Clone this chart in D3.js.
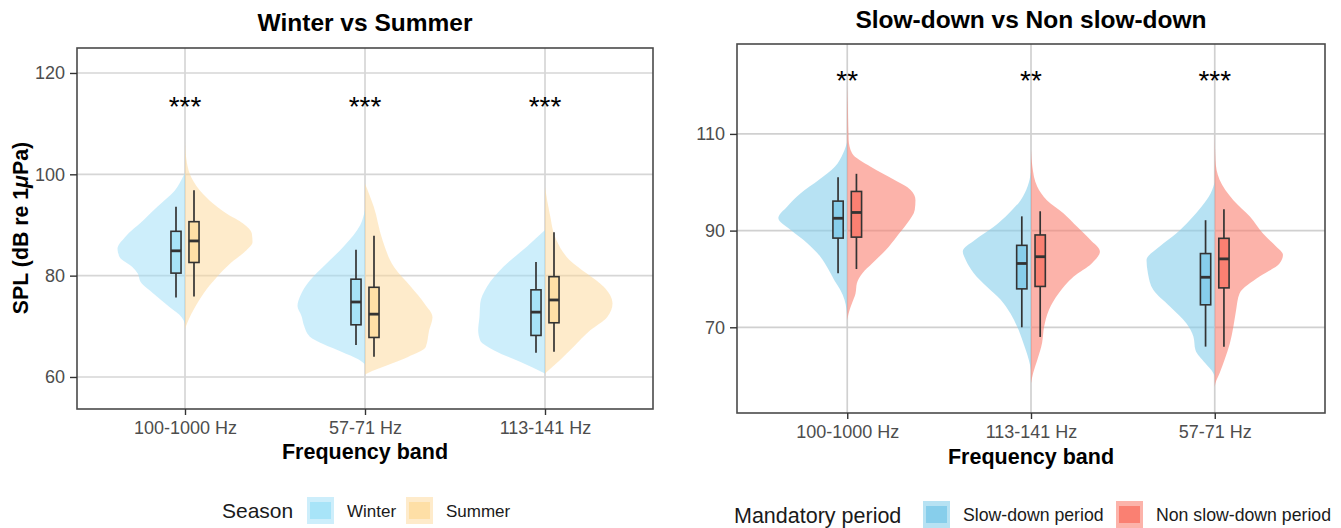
<!DOCTYPE html>
<html>
<head>
<meta charset="utf-8">
<script src="https://cdn.jsdelivr.net/npm/d3@7"></script>
<style>
  html, body { margin: 0; padding: 0; background: #ffffff; }
  svg { display: block; }
</style>
</head>
<body>
<script>
// ---- Frequency bands (panel order) ----
const seasonBands = ["100-1000 Hz", "57-71 Hz", "113-141 Hz"];
const periodBands = ["100-1000 Hz", "113-141 Hz", "57-71 Hz"];

// ---- Group names ----
const seasonGroups = ["Winter", "Summer"];
const periodGroups = ["Slow-down period", "Non slow-down period"];

// ---- Axis ticks ----
const seasonTicks = [60, 80, 100, 120];
const periodTicks = [70, 90, 110];

// ---- Significance labels per band ----
const seasonStars = ["***", "***", "***"];
const periodStars = ["**", "**", "***"];

// ---- Box statistics per band: [lower whisker, Q1, median, Q3, upper whisker] (dB) ----
const winterBox   = [[75.7, 80.5, 84.9, 88.75, 93.6], [66.3, 70.3, 74.8, 79.3, 85.1], [64.8, 68.2, 72.8, 77.2, 82.7]];
const summerBox   = [[75.9, 82.6, 86.85, 90.65, 96.85], [64.0, 67.8, 72.4, 77.7, 87.85], [65.0, 70.7, 75.2, 79.8, 88.55]];
const slowBox     = [[81.2, 88.45, 92.55, 96.1, 101.05], [70.0, 77.95, 83.2, 86.95, 92.95], [66.0, 74.65, 80.35, 85.25, 92.15]];
const nonSlowBox  = [[82.05, 88.65, 93.75, 98.1, 101.75], [68.0, 78.45, 84.6, 89.1, 94.0], [66.0, 78.15, 84.15, 88.4, 94.4]];

// ---- Density profiles per band: [SPL (dB), relative density] ----
const winterViolin = [
  [[70.5,0],[71.8,0.05],[73.8,0.23],[76.4,0.46],[78.8,0.66],[80.4,0.70],[81.7,0.78],[83.7,0.97],[85.3,1.0],[87.6,0.89],[90.9,0.62],[93.6,0.41],[96.8,0.15],[99.5,0.03],[100.3,0]],
  [[62.5,0],[63.5,0.1],[65,0.35],[66.5,0.62],[68,0.82],[70,0.9],[72,0.94],[74,1.0],[76,0.96],[79,0.82],[82,0.6],[86,0.3],[90,0.07],[93,0]],
  [[60.7,0],[63.0,0.37],[65.3,0.76],[67.2,0.96],[69.2,0.99],[72,0.97],[74.5,0.96],[77.8,0.86],[81.7,0.62],[85.7,0.27],[89.0,0]]
];
const summerViolin = [
  [[69.5,0],[71.2,0.05],[73.8,0.15],[76.4,0.27],[79.7,0.47],[82.4,0.67],[85.0,0.91],[86.6,1.0],[88.3,0.99],[90.3,0.86],[92.2,0.62],[94.2,0.42],[96.8,0.22],[100.1,0.07],[103,0.02],[106.5,0]],
  [[60.5,0],[60.7,0.03],[62.3,0.33],[63.9,0.63],[65.9,0.9],[69.2,0.95],[71.8,1.0],[74.5,0.88],[77.8,0.68],[81.7,0.43],[87.0,0.26],[93.6,0.13],[98.2,0]],
  [[60.7,0],[63.3,0.22],[65.9,0.42],[69.2,0.67],[71.8,0.92],[74.5,1.0],[77.8,0.87],[80.4,0.62],[83.0,0.37],[87.0,0.17],[92.2,0.07],[97.5,0]]
];
const slowViolin = [
  [[72.2,0],[73.6,0.01],[75.7,0.04],[77.7,0.1],[79.8,0.19],[81.9,0.27],[84.6,0.39],[87.4,0.58],[90.1,0.82],[92.6,1.0],[95.0,0.87],[97.7,0.68],[100.5,0.41],[103.2,0.18],[106.0,0.06],[108.4,0]],
  [[61.2,0],[63.2,0.03],[66.7,0.11],[70.1,0.2],[72.9,0.3],[75.7,0.44],[78.4,0.64],[81.2,0.83],[84.0,0.95],[85.7,0.99],[88.1,0.81],[90.8,0.54],[93.6,0.32],[96.3,0.15],[99.1,0.05],[102,0]],
  [[59.8,0],[60.5,0.02],[62.6,0.14],[65.3,0.28],[68.1,0.31],[70.8,0.41],[74.3,0.65],[77.7,0.89],[81.2,0.97],[83.9,0.99],[86.7,0.8],[89.4,0.56],[92.2,0.36],[95.0,0.19],[97.7,0.06],[100,0]]
];
const nonSlowViolin = [
  [[71.5,0],[72.9,0.02],[75.0,0.07],[77.0,0.12],[79.1,0.14],[81.2,0.22],[83.2,0.36],[86.0,0.56],[88.8,0.72],[91.5,0.87],[94.3,0.98],[96.3,0.99],[98.4,0.92],[100.5,0.68],[103.2,0.34],[106.0,0.07],[108.8,0.02],[115,0.01],[120,0]],
  [[58.4,0],[60.5,0.03],[63.2,0.09],[66.7,0.16],[70.1,0.19],[73.6,0.26],[77.0,0.4],[80.5,0.62],[83.2,0.88],[85.7,1.0],[88.1,0.86],[90.8,0.67],[93.6,0.47],[96.3,0.23],[99.1,0.09],[103.2,0.02],[106.7,0]],
  [[57.7,0],[58.4,0.01],[60.5,0.07],[63.2,0.14],[66.7,0.22],[70.1,0.27],[73.6,0.31],[77.0,0.36],[80.5,0.65],[83.2,0.94],[85.0,0.99],[86.7,0.89],[89.4,0.7],[92.9,0.51],[96.3,0.27],[100.5,0.07],[104.6,0.01],[110,0]]
];

const FONT = "'Liberation Sans', Arial, Helvetica, sans-serif";
const INK = "#333333";

const svg = d3.select("body").append("svg")
  .attr("width", 1341).attr("height", 528)
  .style("font-family", FONT);

function drawPanel(p) {
  const g = svg.append("g");
  const f = p.frame;

  const y = d3.scaleLinear().domain(p.domain).range([f.bottom, f.top]);
  const x = d3.scalePoint().domain(p.bands).range([f.left, f.right]).padding(0.6);
  const step = x.step();
  const halfW = 0.375 * step;
  const boxOff = 0.05 * step;
  const boxW = 0.056 * step;

  // grid
  g.append("g").selectAll("line.h").data(p.ticks).join("line")
    .attr("x1", f.left).attr("x2", f.right)
    .attr("y1", d => y(d)).attr("y2", d => y(d))
    .attr("stroke", p.gridColor).attr("stroke-width", 1.7);
  g.append("g").selectAll("line.v").data(p.bands).join("line")
    .attr("x1", d => x(d)).attr("x2", d => x(d))
    .attr("y1", f.top).attr("y2", f.bottom)
    .attr("stroke", p.gridColor).attr("stroke-width", 1.7);

  // split violins
  p.groups.forEach(grp => {
    p.bands.forEach((band, i) => {
      const cx = x(band);
      const prof = grp.violin[i].slice().sort((a, b) => b[0] - a[0]);
      const area = d3.area()
        .y(d => y(d[0]))
        .x0(cx)
        .x1(d => cx + grp.side * d[1] * halfW)
        .curve(d3.curveMonotoneY);
      g.append("path")
        .attr("d", area(prof))
        .attr("fill", grp.fill)
        .attr("fill-opacity", grp.alpha);
    });
  });

  // boxplots
  p.groups.forEach(grp => {
    p.bands.forEach((band, i) => {
      const [lo, q1, med, q3, hi] = grp.box[i];
      const bx = x(band) + grp.side * boxOff;
      const bg = g.append("g");
      bg.append("line").attr("x1", bx).attr("x2", bx).attr("y1", y(hi)).attr("y2", y(q3))
        .attr("stroke", INK).attr("stroke-width", 1.7);
      bg.append("line").attr("x1", bx).attr("x2", bx).attr("y1", y(q1)).attr("y2", y(lo))
        .attr("stroke", INK).attr("stroke-width", 1.7);
      bg.append("rect")
        .attr("x", bx - boxW / 2).attr("width", boxW)
        .attr("y", y(q3)).attr("height", y(q1) - y(q3))
        .attr("fill", grp.boxFill).attr("stroke", INK).attr("stroke-width", 1.6);
      bg.append("line").attr("x1", bx - boxW / 2).attr("x2", bx + boxW / 2)
        .attr("y1", y(med)).attr("y2", y(med))
        .attr("stroke", INK).attr("stroke-width", 2.8);
    });
  });

  // significance stars
  g.append("g").selectAll("text").data(p.bands).join("text")
    .attr("x", d => x(d)).attr("y", y(p.starLevel))
    .attr("dy", "0.55em")
    .attr("text-anchor", "middle")
    .attr("font-size", 28)
    .attr("fill", "#000")
    .text((d, i) => p.stars[i]);

  // frame
  g.append("rect")
    .attr("x", f.left).attr("y", f.top)
    .attr("width", f.right - f.left).attr("height", f.bottom - f.top)
    .attr("fill", "none").attr("stroke", "#4a4a4a").attr("stroke-width", 1.6);

  // axes
  const ya = g.append("g").attr("transform", `translate(${f.left},0)`)
    .call(d3.axisLeft(y).tickValues(p.ticks).tickSize(7).tickPadding(5));
  const xa = g.append("g").attr("transform", `translate(0,${f.bottom})`)
    .call(d3.axisBottom(x).tickSize(6).tickPadding(6));
  [ya, xa].forEach(a => {
    a.select(".domain").remove();
    a.selectAll(".tick line").attr("stroke", INK).attr("stroke-width", 1.4);
    a.selectAll(".tick text").attr("fill", "#4d4d4d").attr("font-size", 18).attr("font-family", FONT);
  });

  // titles
  g.append("text")
    .attr("x", (f.left + f.right) / 2).attr("y", p.titleY).attr("dy", "0.35em")
    .attr("text-anchor", "middle").attr("font-size", 24.5).attr("font-weight", "bold")
    .attr("fill", "#000").text(p.title);
  g.append("text")
    .attr("x", (f.left + f.right) / 2).attr("y", p.xTitleY).attr("dy", "0.35em")
    .attr("text-anchor", "middle").attr("font-size", 21.5).attr("font-weight", "bold")
    .attr("fill", "#000").text("Frequency band");

  // legend
  const L = p.legend;
  g.append("text").attr("x", L.titleX).attr("y", L.y).attr("dy", "0.35em")
    .attr("font-size", L.titleSize).attr("fill", "#1a1a1a").text(L.title);
  p.groups.forEach((grp, k) => {
    const kx = L.keyX[k];
    g.append("rect").attr("x", kx).attr("y", L.y - 14).attr("width", 27).attr("height", 27)
      .attr("fill", grp.fill).attr("fill-opacity", grp.alpha);
    g.append("rect").attr("x", kx + 3).attr("y", L.y - 9).attr("width", 21).attr("height", 17)
      .attr("fill", grp.boxFill);
    g.append("text").attr("x", kx + 40).attr("y", L.y).attr("dy", "0.35em")
      .attr("font-size", L.labelSize).attr("fill", "#1a1a1a").text(L.labels[k]);
  });
}

// Winter vs Summer
drawPanel({
  bands: seasonBands, ticks: seasonTicks, stars: seasonStars, starLevel: 114.5,
  frame: { left: 77, right: 653, top: 48, bottom: 409 }, domain: [53.68, 124.93],
  gridColor: "#d6d6d6",
  title: "Winter vs Summer", titleY: 22, xTitleY: 451,
  groups: [
    { violin: winterViolin, box: winterBox, side: -1, fill: "#9fdff7", alpha: 0.52, boxFill: "#a8e4f8" },
    { violin: summerViolin, box: summerBox, side: 1, fill: "#fdd99b", alpha: 0.52, boxFill: "#fedfa6" }
  ],
  legend: { title: "Season", titleX: 222, y: 511, titleSize: 21, labelSize: 17,
            keyX: [307, 406], labels: seasonGroups }
});

// Slow-down vs Non slow-down
drawPanel({
  bands: periodBands, ticks: periodTicks, stars: periodStars, starLevel: 122.2,
  frame: { left: 737, right: 1325, top: 44, bottom: 413 }, domain: [52.27, 128.6],
  gridColor: "#d0d0d0",
  title: "Slow-down vs Non slow-down", titleY: 19, xTitleY: 456,
  groups: [
    { violin: slowViolin, box: slowBox, side: -1, fill: "#87ceeb", alpha: 0.6, boxFill: "#87ceeb" },
    { violin: nonSlowViolin, box: nonSlowBox, side: 1, fill: "#fa8072", alpha: 0.6, boxFill: "#fa8072" }
  ],
  legend: { title: "Mandatory period", titleX: 734, y: 515, titleSize: 21.5, labelSize: 17.7,
            keyX: [923, 1116], labels: periodGroups }
});

// y-axis title (left panel only)
svg.append("text")
  .attr("transform", "translate(21,228) rotate(-90)")
  .attr("dy", "0.35em")
  .attr("text-anchor", "middle").attr("font-size", 21.3).attr("font-weight", "bold")
  .attr("fill", "#000")
  .call(t => {
    t.append("tspan").text("SPL (dB re 1");
    t.append("tspan").attr("font-style", "italic").text("\u03bc");
    t.append("tspan").text("Pa)");
  });
</script>
</body>
</html>
